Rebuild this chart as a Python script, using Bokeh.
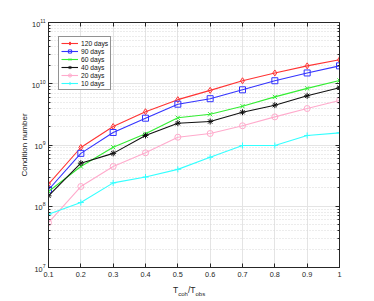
from bokeh.plotting import figure
from bokeh.models import (Range1d, LinearAxis, LogAxis, FixedTicker, Legend,
                          LegendItem, Div)
from bokeh.layouts import column
from bokeh.embed import file_html
from bokeh.resources import INLINE

ratio = [0.1, 0.2, 0.3, 0.4, 0.5, 0.6, 0.7, 0.8, 0.9, 1.0]
d120 = [2.3e8, 9.1e8, 2.0e9, 3.5e9, 5.5e9, 7.8e9, 1.12e10, 1.5e10, 1.96e10, 2.46e10]
d90 = [1.86e8, 7.3e8, 1.6e9, 2.74e9, 4.64e9, 5.7e9, 7.97e9, 1.12e10, 1.5e10, 1.96e10]
d60 = [1.74e8, 4.46e8, 9.2e8, 1.52e9, 2.78e9, 3.18e9, 4.3e9, 6.1e9, 8.4e9, 1.13e10]
d40 = [1.48e8, 5.05e8, 7.3e8, 1.43e9, 2.27e9, 2.42e9, 3.43e9, 4.47e9, 6.36e9, 8.6e9]
d20 = [5.4e7, 2.1e8, 4.46e8, 7.45e8, 1.34e9, 1.54e9, 2.06e9, 2.88e9, 3.94e9, 5.33e9]
d10 = [7.4e7, 1.15e8, 2.41e8, 3.0e8, 4.0e8, 6.3e8, 9.8e8, 9.8e8, 1.43e9, 1.58e9]
series_names = ["120 days", "90 days", "60 days", "40 days", "20 days", "10 days"]
x_ticks = [0.1, 0.2, 0.3, 0.4, 0.5, 0.6, 0.7, 0.8, 0.9, 1.0]
y_ticks = [1e7, 1e8, 1e9, 1e10, 1e11]

series = [d120, d90, d60, d40, d20, d10]
colors = ["#ff3333", "#3333ff", "#33ee33", "#111111", "#ffaacc", "#33ffff"]
markers = ["diamond", "square", "x", "asterisk", "circle", "cross"]
fills = [None, None, None, "#111111", None, None]

axc = "#262626"
p = figure(width=360, height=281, y_axis_type="log",
           x_range=Range1d(0.1, 1.0), y_range=Range1d(1e7, 1e11),
           output_backend="svg", toolbar_location=None,
           min_border_left=48, min_border_right=21, min_border_top=22,
           min_border_bottom=14)
p.outline_line_color = axc
p.background_fill_color = "white"
p.border_fill_color = "white"

minor = [m * 10 ** e for e in range(7, 11) for m in range(2, 10)]
p.yaxis.ticker = FixedTicker(ticks=y_ticks, minor_ticks=minor)
p.xaxis.ticker = FixedTicker(ticks=x_ticks)
for ax in [p.xaxis[0], p.yaxis[0]]:
    ax.axis_line_color = axc
    ax.major_tick_line_color = axc
    ax.minor_tick_line_color = axc
    ax.major_tick_in = 4
    ax.major_tick_out = 0
    ax.minor_tick_in = 2
    ax.minor_tick_out = 0
    ax.major_label_text_font_size = "7.3px"
    ax.major_label_text_color = axc
    ax.major_label_text_font = "Liberation Sans"
p.xaxis.major_label_standoff = 4
p.yaxis.major_label_standoff = 3
p.xaxis.minor_tick_line_color = None

p.xgrid.grid_line_color = "#e4e4e4"
p.ygrid.grid_line_color = "#e4e4e4"
p.ygrid.minor_grid_line_color = "#d8d8d8"
p.ygrid.minor_grid_line_dash = "1 2"

top = LinearAxis(ticker=FixedTicker(ticks=x_ticks), major_label_text_color=None,
                 major_label_text_font_size="2px", major_label_standoff=0,
                 major_tick_in=4, major_tick_out=0, axis_line_color=axc,
                 major_tick_line_color=axc)
right = LogAxis(ticker=FixedTicker(ticks=y_ticks, minor_ticks=minor),
                major_label_text_color=None, major_label_text_font_size="2px",
                major_label_standoff=0, major_tick_in=4, major_tick_out=0,
                minor_tick_in=2, minor_tick_out=0, axis_line_color=axc,
                major_tick_line_color=axc, minor_tick_line_color=axc)
p.add_layout(top, "above")
p.add_layout(right, "right")

items = []
for name, ys, c, m, f in zip(series_names, series, colors, markers, fills):
    r1 = p.line(ratio, ys, line_color=c, line_width=1.1)
    r2 = p.scatter(ratio, ys, marker=m, size=6, line_color=c,
                   fill_color=f if f else None, line_width=1.0)
    items.append(LegendItem(label=name, renderers=[r1, r2]))

leg = Legend(items=items, location=(10, 177), label_text_font_size="6.7px",
             label_text_font="Liberation Sans", label_text_color="#111111",
             glyph_width=17, glyph_height=8, label_height=8, spacing=0,
             padding=2, margin=0, label_standoff=3,
             border_line_color=axc, border_line_width=1,
             background_fill_alpha=1.0)
p.add_layout(leg)

p.yaxis[0].axis_label = "Condition number"
p.yaxis[0].axis_label_text_font_size = "8px"
p.yaxis[0].axis_label_text_font_style = "normal"
p.yaxis[0].axis_label_text_font = "Liberation Sans"
p.yaxis[0].axis_label_text_color = axc
p.yaxis[0].axis_label_standoff = 0

xlabel = Div(
    text=('<div style="padding-left:173px; padding-top:5px; '
          'font-family:\'Liberation Sans\'; font-size:8.5px; color:#262626; '
          'line-height:1; white-space:nowrap">'
          'T<sub style="font-size:6px">coh</sub>/T<sub style="font-size:6px">obs</sub>'
          '</div>'),
    width=360, height=17, margin=0)

layout = column(p, xlabel, spacing=0)
open("out.html", "w").write(file_html(layout, INLINE))
